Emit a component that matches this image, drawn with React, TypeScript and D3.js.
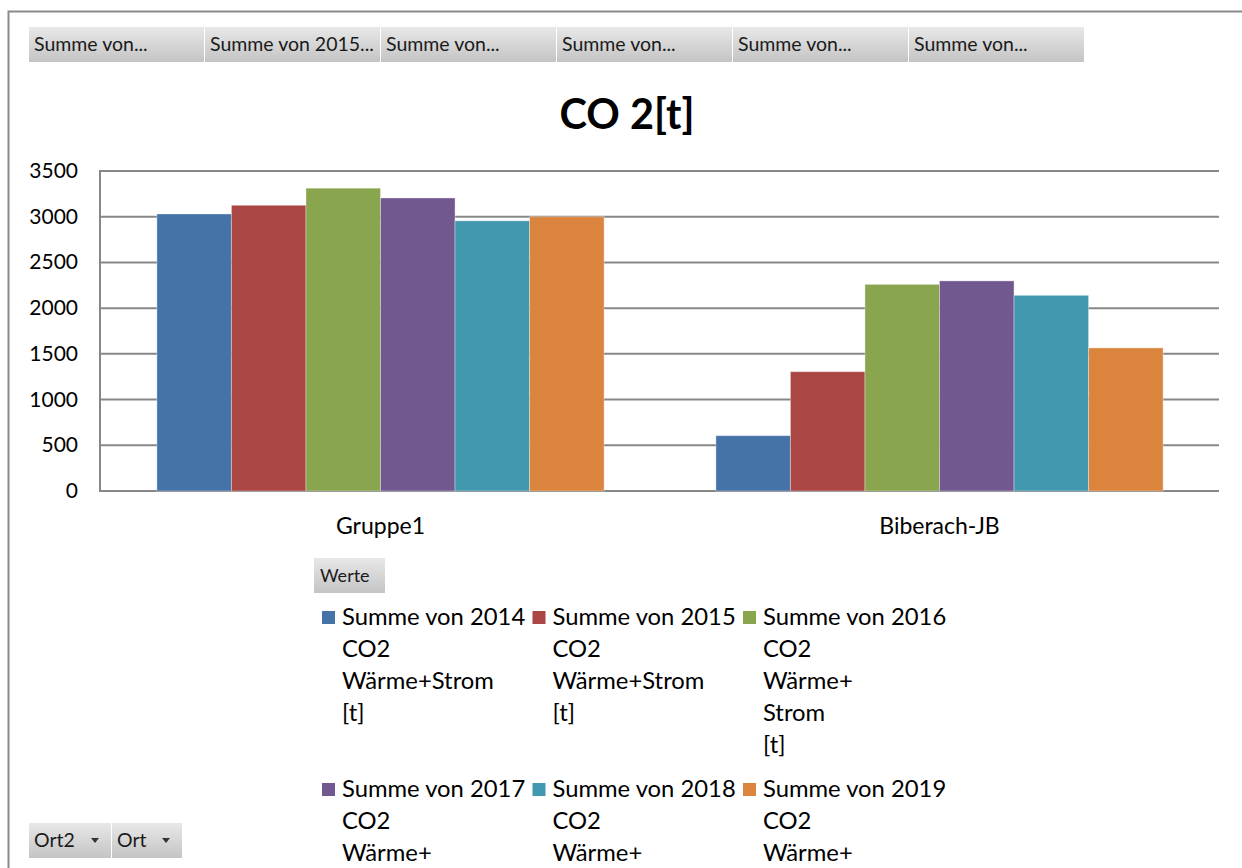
import React from "react";
import * as d3 from "d3";

const categories = ["Gruppe1", "Biberach-JB"];
const seriesNames = ["2014", "2015", "2016", "2017", "2018", "2019"];
const values2014 = [3030, 605];
const values2015 = [3125, 1305];
const values2016 = [3312, 2260];
const values2017 = [3205, 2298];
const values2018 = [2955, 2140];
const values2019 = [3000, 1565];
const seriesValues = [values2014, values2015, values2016, values2017, values2018, values2019];
const seriesColors = ["#4572A7", "#AA4643", "#89A54E", "#71588F", "#4198AF", "#DB843D"];
const yTicks = [0, 500, 1000, 1500, 2000, 2500, 3000, 3500];
const topButtons = ["Summe von...", "Summe von 2015...", "Summe von...", "Summe von...", "Summe von...", "Summe von..."];
const legendLabels = [
  ["Summe von 2014", "CO2", "Wärme+Strom", "[t]"],
  ["Summe von 2015", "CO2", "Wärme+Strom", "[t]"],
  ["Summe von 2016", "CO2", "Wärme+", "Strom", "[t]"],
  ["Summe von 2017", "CO2", "Wärme+"],
  ["Summe von 2018", "CO2", "Wärme+"],
  ["Summe von 2019", "CO2", "Wärme+"],
];
const title = "CO 2[t]";

const W = 1242;
const H = 868;
const FONT = "Lato, 'Open Sans', sans-serif";

export default function App() {
  const left = 101;
  const right = 1219;
  const top = 171;
  const bottom = 491;
  const y = d3.scaleLinear().domain([0, 3500]).range([bottom, top]);
  const x0 = d3.scaleBand().domain(categories).range([left, right]).padding(0);
  const groupW = x0.bandwidth() / 1.25;
  const x1 = d3.scaleBand().domain(seriesNames).range([0, groupW]).padding(0);

  const btnGrad = "btnGrad";
  return (
    <div style={{ position: "fixed", left: 0, top: 0 }}>
      <svg width={W} height={H} style={{ display: "block", background: "#fff" }}>
        <defs>
          <linearGradient id={btnGrad} x1="0" y1="0" x2="0" y2="1">
            <stop offset="0" stopColor="#e8e8e8" />
            <stop offset="1" stopColor="#c4c4c4" />
          </linearGradient>
        </defs>
        {/* frame */}
        <path d={`M8.5,${H} L8.5,11.5 L${W},11.5`} fill="none" stroke="#8a8a8a" strokeWidth={2} />

        {/* top field buttons */}
        {topButtons.map((t, i) => {
          const bx = 29 + i * 176;
          return (
            <g key={i}>
              <rect x={bx} y={27} width={175} height={35} fill={`url(#${btnGrad})`} />
              <text x={bx + 5} y={51} fontFamily={FONT} fontSize={19.5} fill="#1a1a1a">
                {t}
              </text>
            </g>
          );
        })}

        {/* title */}
        <text x={627} y={129} textAnchor="middle" fontFamily={FONT} fontWeight="bold" fontSize={41.5} fill="#000">
          {title}
        </text>

        {/* gridlines */}
        {yTicks.map((t) => (
          <line key={t} x1={left - 2} x2={right} y1={y(t)} y2={y(t)} stroke="#878787" strokeWidth={2} />
        ))}
        <line x1={left - 1} x2={left - 1} y1={top} y2={bottom} stroke="#878787" strokeWidth={2} />
        {yTicks.map((t) => (
          <text key={"l" + t} x={78} y={y(t) + 7} textAnchor="end" fontFamily={FONT} fontSize={21} fill="#000">
            {t}
          </text>
        ))}

        {/* bars */}
        {categories.map((c, ci) => {
          const gx = (x0(c) as number) + (x0.bandwidth() - groupW) / 2;
          return (
            <g key={c}>
              {seriesNames.map((s, si) => {
                const v = seriesValues[si][ci];
                return (
                  <rect
                    key={s}
                    x={gx + (x1(s) as number)}
                    y={y(v)}
                    width={x1.bandwidth()}
                    height={y(0) - y(v)}
                    fill={seriesColors[si]}
                    stroke="#ffffff"
                    strokeOpacity={0.35}
                    strokeWidth={1}
                  />
                );
              })}
              <text
                x={(x0(c) as number) + x0.bandwidth() / 2}
                y={534}
                textAnchor="middle"
                fontFamily={FONT}
                fontSize={23}
                fill="#000"
              >
                {c}
              </text>
            </g>
          );
        })}

        {/* Werte button */}
        <rect x={314} y={558} width={71} height={35} fill={`url(#${btnGrad})`} />
        <text x={320} y={582} fontFamily={FONT} fontSize={18} fill="#1a1a1a">
          Werte
        </text>

        {/* legend */}
        {legendLabels.map((lines, i) => {
          const col = i % 3;
          const row = Math.floor(i / 3);
          const lx = 322 + col * 210.5;
          const ly = 625 + row * 172;
          return (
            <g key={i}>
              <rect x={lx} y={ly - 14} width={13} height={13} fill={seriesColors[i]} />
              {lines.map((ln, li) => (
                <text key={li} x={lx + 20} y={ly + li * 32} fontFamily={FONT} fontSize={23.8} fill="#000">
                  {ln}
                </text>
              ))}
            </g>
          );
        })}

        {/* bottom buttons */}
        <rect x={29} y={823} width={82} height={35} fill={`url(#${btnGrad})`} />
        <text x={34} y={847} fontFamily={FONT} fontSize={19.5} fill="#1a1a1a">
          Ort2
        </text>
        <path d="M91,838 L99,838 L95,843 Z" fill="#333" />
        <rect x={112} y={823} width={70} height={35} fill={`url(#${btnGrad})`} />
        <text x={117} y={847} fontFamily={FONT} fontSize={19.5} fill="#1a1a1a">
          Ort
        </text>
        <path d="M162,838 L170,838 L166,843 Z" fill="#333" />
      </svg>
    </div>
  );
}
